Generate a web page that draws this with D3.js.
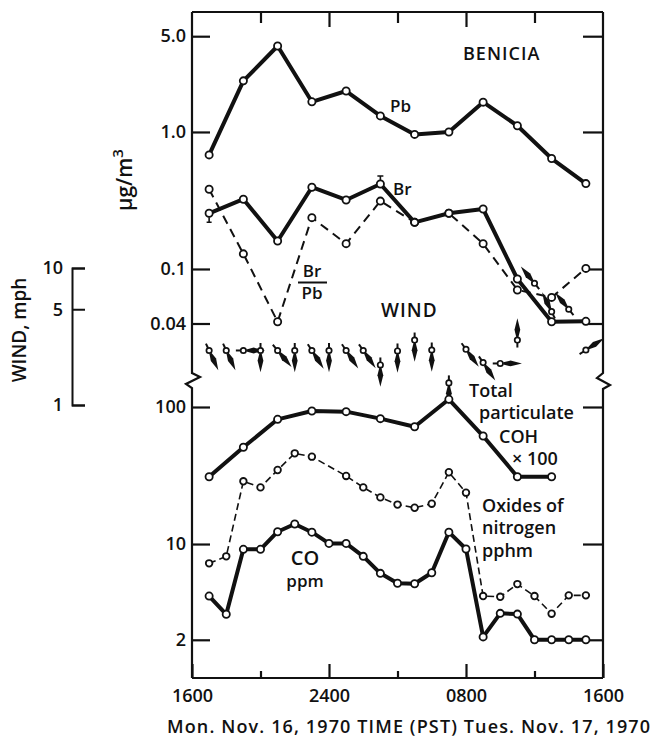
<!DOCTYPE html>
<html><head><meta charset="utf-8">
<script src="https://cdn.jsdelivr.net/npm/d3@7"></script>
<style>
body{margin:0;background:#fff}
svg text{font-family:"Open Sans",sans-serif;font-weight:600;fill:#111}
</style>
</head><body>
<svg id="c" width="653" height="737"></svg>
<script>
// ---------- data ----------
const hours2 = [1,3,5,7,9,11,13,15,17,19,21,23];           // 1700, 1900, ... 1500
const pb   = [0.68, 2.36, 4.24, 1.66, 1.99, 1.31, 0.96, 1.0, 1.65, 1.11, 0.64, 0.42];
const br   = [0.255, 0.323, 0.16, 0.395, 0.319, 0.417, 0.219, 0.255, 0.274, 0.0845, 0.0412, 0.0415];
const brPb = [0.382, 0.129, 0.0412, 0.237, 0.153, 0.313, 0.219, 0.255, 0.153, 0.0703, 0.062, 0.101];

const cohHours = [1,3,5,7,9,11,13,15,17,19,21];
const coh = [31.0, 50.8, 81.3, 93.5, 92.5, 82.2, 71.8, 113.8, 61.4, 31.0, 31.0];

const noxHours = [1,2,3,4,5,6,7,9,10,11,12,13,14,15,16,17,18,19,20,21,22,23];
const nox = [7.23, 8.13, 28.7, 25.9, 34.7, 45.9, 43.4, 31.4, 25.9, 21.9, 19.4, 18.4, 19.7, 33.4, 23.7, 4.17, 4.12, 5.1, 4.17, 3.1, 4.22, 4.22];

const coHours = [1,2,3,4,5,6,7,8,9,10,11,12,13,14,15,16,17,18,19,20,21,22,23];
const co = [4.17, 3.07, 9.15, 9.15, 12.3, 14.0, 12.2, 10.1, 10.1, 8.13, 6.11, 5.17, 5.13, 6.17, 12.2, 9.2, 2.1, 3.12, 3.08, 2.0, 2.0, 2.0, 2.0];

const windHours = [1,2,3,4,5,6,7,8,9,10,11,12,13,14,15,16,17,18,19,20,21,22,23];
const windSpeed = [2.5,2.5,2.5,2.5,2.5,2.5,2.5,2.5,2.5,2.5,1.96,2.48,2.98,2.52,1.45,2.55,2.04,2.01,2.98,7.73,4.8,5.0,2.52];
const windDir   = [155,155,90,180,140,180,147,180,146,145,180,180,180,180,180,144,146,90,0,321,334,321,57];

const timeTickHours = [0,8,16,24];
const timeTickLabels = ["1600","2400","0800","1600"];
const upTicks = [5,1,0.1,0.04];
const upTickLabels = ["5.0","1.0","0.1","0.04"];
const lowTicks = [100,10,2];
const lowTickLabels = ["100","10","2"];
const windTicks = [10,5,1];

// ---------- scales ----------
const svg = d3.select("#c");
const x = d3.scaleLinear().domain([0,24]).range([192,603]);
const yUp = d3.scaleLog().domain([0.04,5]).range([323.5,36.2]);
const yLow = d3.scaleLog().domain([2,100]).range([639.8,407]);
const yWind = d3.scaleLog().domain([1,10]).range([405,268]);
const TOP = 12, BOT = 678;

const zip = (hs, vs) => hs.map((h,i)=>({h, v:vs[i]}));

// ---------- frame ----------
const frame = svg.append("g").attr("fill","none").attr("stroke","#111").attr("stroke-width",2.2);
frame.append("path").attr("d",`M${x(0)},${TOP}H${x(24)}`);
frame.append("path").attr("d",`M${x(0)},${BOT}H${x(24)}`);
frame.append("path").attr("d",`M${x(0)},${TOP}V373L${x(0)+8},377L${x(0)-6},384L${x(0)},388V${BOT}`);
frame.append("path").attr("d",`M${x(24)},${TOP}V373L${x(24)-6},378L${x(24)+7},385L${x(24)},389V${BOT}`);

function styleAxis(g){
  g.select(".domain").remove();
  g.selectAll(".tick line").attr("stroke","#111").attr("stroke-width",2.2);
  g.selectAll(".tick text").attr("font-size",18).attr("fill","#111");
}

// y axes (ticks pointing inward)
svg.append("g").attr("transform",`translate(${x(0)},0)`)
  .call(d3.axisLeft(yUp).tickValues(upTicks).tickSize(-18).tickPadding(6)
    .tickFormat((d,i)=>upTickLabels[i])).call(styleAxis);
svg.append("g").attr("transform",`translate(${x(24)},0)`)
  .call(d3.axisRight(yUp).tickValues(upTicks).tickSize(-20).tickFormat("")).call(styleAxis);
svg.append("g").attr("transform",`translate(${x(0)},0)`)
  .call(d3.axisLeft(yLow).tickValues(lowTicks).tickSize(-18).tickPadding(6)
    .tickFormat((d,i)=>lowTickLabels[i])).call(styleAxis);
svg.append("g").attr("transform",`translate(${x(24)},0)`)
  .call(d3.axisRight(yLow).tickValues(lowTicks).tickSize(-20).tickFormat("")).call(styleAxis);

// x axes
svg.append("g").attr("transform",`translate(0,${BOT})`)
  .call(d3.axisBottom(x).tickValues(timeTickHours).tickSize(-14).tickPadding(11)
    .tickFormat((d,i)=>timeTickLabels[i])).call(styleAxis);
svg.append("g").attr("transform",`translate(0,${BOT})`)
  .call(d3.axisBottom(x).tickValues([4,12,20]).tickSize(-7).tickFormat("")).call(styleAxis);
svg.append("g").attr("transform",`translate(0,${TOP})`)
  .call(d3.axisTop(x).tickValues([8,16]).tickSize(-15).tickFormat("")).call(styleAxis);
svg.append("g").attr("transform",`translate(0,${TOP})`)
  .call(d3.axisTop(x).tickValues([4,12,20]).tickSize(-11).tickFormat("")).call(styleAxis);

// wind speed scale bar
const wg = svg.append("g").attr("transform","translate(72,0)")
  .call(d3.axisLeft(yWind).tickValues(windTicks).tickSizeInner(-13).tickSizeOuter(-13).tickPadding(9)
    .tickFormat(d3.format("d")));
wg.select(".domain").attr("stroke","#111").attr("stroke-width",2);
wg.selectAll(".tick line").attr("stroke","#111").attr("stroke-width",2);
wg.selectAll(".tick text").attr("font-size",18).attr("fill","#111");

// ---------- wind vanes ----------
const windG = svg.append("g");
zip(windHours, windSpeed).forEach((d,i)=>{
  const cx = x(d.h), cy = yWind(d.v);
  const a = windDir[i]*Math.PI/180;
  const ux = Math.sin(a), uy = -Math.cos(a);
  const px = -uy, py = ux;
  const r = 2.7, L = 19, S = 7.5;
  windG.append("line").attr("x1",cx - ux*r).attr("y1",cy - uy*r)
    .attr("x2",cx - ux*S).attr("y2",cy - uy*S).attr("stroke","#111").attr("stroke-width",2);
  const b = r+0.3, m = r+0.4*L, t = r+L, w = 2.9;
  const pts = [[cx+ux*b+px*1.1, cy+uy*b+py*1.1],[cx+ux*m+px*w, cy+uy*m+py*w],
    [cx+ux*t, cy+uy*t],[cx+ux*m-px*w, cy+uy*m-py*w],[cx+ux*b-px*1.1, cy+uy*b-py*1.1]];
  windG.append("path").attr("d","M"+pts.map(p=>p.join(",")).join("L")+"Z").attr("fill","#111");
  windG.append("circle").attr("cx",cx).attr("cy",cy).attr("r",r)
    .attr("fill","#fff").attr("stroke","#111").attr("stroke-width",1.7);
});

// ---------- series ----------
function series(data, y, opts){
  const line = d3.line().x(d=>x(d.h)).y(d=>y(d.v));
  const g = svg.append("g");
  g.append("path").attr("d",line(data)).attr("fill","none").attr("stroke","#111")
    .attr("stroke-width",opts.w).attr("stroke-dasharray",opts.dash||null).attr("stroke-linejoin","round");
  g.selectAll("circle").data(data).join("circle")
    .attr("cx",d=>x(d.h)).attr("cy",d=>y(d.v)).attr("r",opts.r)
    .attr("fill","#fff").attr("stroke","#111").attr("stroke-width",1.8);
  return g;
}
series(zip(hours2, brPb), yUp, {w:2, dash:"9,6", r:3.6});
series(zip(hours2, br), yUp, {w:4, r:3.6});
series(zip(hours2, pb), yUp, {w:4, r:3.6});
series(zip(noxHours, nox), yLow, {w:1.6, dash:"7,4", r:3.3});
series(zip(cohHours, coh), yLow, {w:4, r:3.6});
series(zip(coHours, co), yLow, {w:4, r:3.6});

// small range marks on Br
svg.append("path").attr("d",`M${x(1)},${yUp(br[0])+4}V${yUp(br[0])+9}M${x(1)-2.5},${yUp(br[0])+9}H${x(1)+2.5}`)
  .attr("stroke","#111").attr("stroke-width",1.6);
svg.append("path").attr("d",`M${x(11)},${yUp(br[5])-4}V${yUp(br[5])-8}M${x(11)-3},${yUp(br[5])-8}H${x(11)+3}`)
  .attr("stroke","#111").attr("stroke-width",1.6);

// ---------- text ----------
function txt(s, tx, ty, size, anchor){
  return svg.append("text").attr("x",tx).attr("y",ty).attr("font-size",size)
    .attr("text-anchor",anchor||"start").text(s);
}
txt("BENICIA", 463, 60, 18).attr("letter-spacing",1);
txt("Pb", 390, 112, 17);
txt("Br", 393, 195, 17);
txt("Br", 312, 277, 17, "middle");
svg.append("line").attr("x1",298).attr("x2",327).attr("y1",282.5).attr("y2",282.5).attr("stroke","#111").attr("stroke-width",2);
txt("Pb", 312, 299, 17, "middle");
txt("WIND", 381, 317, 19).attr("letter-spacing",1);
txt("Total", 469, 397, 18);
txt("particulate", 479, 419, 18);
txt("COH", 499, 443, 18);
txt("\u00D7 100", 512, 465, 18);
txt("Oxides of", 482, 512, 18);
txt("nitrogen", 482, 534, 18);
txt("pphm", 482, 557, 18);
txt("CO", 305, 565, 20, "middle");
txt("ppm", 305, 587, 17, "middle");
txt("Mon. Nov. 16, 1970 TIME (PST) Tues. Nov. 17, 1970", 167, 733, 18).attr("textLength",483);

// rotated axis titles
const ug = svg.append("text").attr("transform","translate(132,180) rotate(-90)")
  .attr("text-anchor","middle").attr("font-size",21);
ug.append("tspan").text("\u03BCg/m");
ug.append("tspan").attr("dy",-9).attr("font-size",15).text("3");
svg.append("text").attr("transform","translate(26,330) rotate(-90)")
  .attr("text-anchor","middle").attr("font-size",19).text("WIND, mph");
</script>
</body></html>
